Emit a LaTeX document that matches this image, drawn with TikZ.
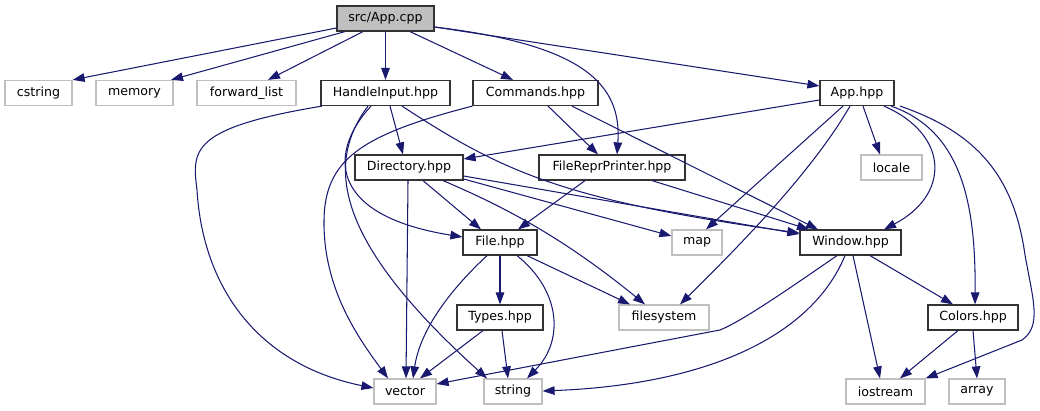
\documentclass[tikz,border=0pt]{standalone}
\usepackage{fontspec}
\setmainfont{DejaVu Sans}
\usetikzlibrary{arrows.meta}
\definecolor{edgec}{HTML}{191970}
\definecolor{extc}{HTML}{BFBFBF}
\definecolor{boxc}{HTML}{333333}
\tikzset{
  base/.style={minimum height=25pt, inner sep=0pt, font=\fontsize{12.6}{14}\selectfont, line width=1.2pt},
  doc/.style={base, draw=boxc, fill=white},
  ext/.style={base, draw=extc, fill=white},
  root/.style={base, draw=boxc, fill=extc},
  e/.style={draw=edgec, line width=1.05pt, -{Triangle[length=12pt,width=8.6pt]}},
}
\begin{document}
\begin{tikzpicture}[x=1pt,y=-1pt]
\useasboundingbox (0,0) rectangle (1040,411);
% nodes
\node[root, minimum width=97pt]  (app)      at (385.5,18.5) {src/App.cpp};
\node[ext,  minimum width=67pt]  (cstring)  at (38.5,93)    {cstring};
\node[ext,  minimum width=77pt]  (memory)   at (134.5,93)   {memory};
\node[ext,  minimum width=99pt]  (fwd)      at (246.5,93)   {forward\_list};
\node[doc,  minimum width=129pt] (hi)       at (385.5,93)   {HandleInput.hpp};
\node[doc,  minimum width=125pt] (cmd)      at (535.5,93)   {Commands.hpp};
\node[doc,  minimum width=74pt]  (apphpp)   at (857,93)     {App.hpp};
\node[doc,  minimum width=108pt] (dir)      at (409,167.5)  {Directory.hpp};
\node[doc,  minimum width=146pt] (frp)      at (612,167.5)  {FileReprPrinter.hpp};
\node[ext,  minimum width=61pt]  (locale)   at (891.5,167.5){locale};
\node[ext,  minimum width=50pt]  (map)      at (697,242.5)  {map};
\node[doc,  minimum width=74pt]  (file)     at (500,242.5)  {File.hpp};
\node[doc,  minimum width=101pt] (window)   at (850.5,242.5){Window.hpp};
\node[ext,  minimum width=90pt]  (fs)       at (664,317.5)  {filesystem};
\node[doc,  minimum width=86pt]  (types)    at (500,317.5)  {Types.hpp};
\node[doc,  minimum width=90pt]  (colors)   at (973,317.5)  {Colors.hpp};
\node[ext,  minimum width=62pt]  (vector)   at (405,391.5)  {vector};
\node[ext,  minimum width=58pt]  (string)   at (513,391.5)  {string};
\node[ext,  minimum width=79pt]  (iostream) at (885.5,391.5){iostream};
\node[ext,  minimum width=56pt]  (array)    at (977,391.5)  {array};
% src/App.cpp
\draw[e] (app.west |- 0,28) -- (cstring.north east);
\draw[e] (app.south -| 345,0) -- (memory.north -| 171,0);
\draw[e] (app.south -| 363,0) -- (fwd.north -| 268,0);
\draw[e] (app) -- (hi);
\draw[e] (app.south -| 410,0) -- (cmd.north -| 513,0);
\draw[e] (app.east |- 0,27) .. controls (585,45) and (622,85) .. (frp.north -| 617,0);
\draw[e] (app.east |- 0,27) -- (apphpp.west |- 0,86);
% HandleInput.hpp
\draw[e] (hi.south -| 322,0) .. controls (190,128) and (192,150) .. (197,190) .. controls (203,290) and (260,365) .. (vector.west |- 0,388);
\draw[e] (hi.south -| 390,0) -- (dir.north -| 403,0);
\draw[e] (hi.south -| 371,0) .. controls (330,150) and (325,215) .. (file.west |- 0,237);
\draw[e] (hi.south -| 368,0) .. controls (320,170) and (345,250) .. (string.north -| 487,0);
\draw[e] (hi.south -| 402,0) .. controls (500,170) and (560,200) .. (window.west |- 0,233);
% Commands.hpp
\draw[e] (cmd.south west) .. controls (360,135) and (325,160) .. (324,220) .. controls (323,290) and (360,340) .. (vector.north -| 388,0);
\draw[e] (cmd.south -| 548,0) -- (frp.north -| 598,0);
\draw[e] (cmd.south -| 572,0) -- (window.north -| 818,0);
% App.hpp
\draw[e] (apphpp.west |- 0,100) -- (dir.east |- 0,159);
\draw[e] (apphpp.south -| 843,0) -- (map.north -| 706,0);
\draw[e] (apphpp.south -| 850,0) .. controls (810,175) and (735,250) .. (fs.north -| 680,0);
\draw[e] (apphpp.south -| 863,0) -- (locale.north -| 880,0);
\draw[e] (apphpp.south -| 884,0) .. controls (950,135) and (950,195) .. (window.north -| 884,0);
\draw[e] (apphpp.south -| 891,0) .. controls (960,130) and (976,200) .. (colors.north -| 975,0);
\draw[e] (apphpp.south -| 900,0) .. controls (985,135) and (1015,185) .. (1025,255) .. controls (1033,300) and (1042,326) .. (1022,340) -- (iostream.north east);
% Directory.hpp
\draw[e] (dir.south -| 408,0) -- (vector.north -| 406,0);
\draw[e] (dir.south -| 423,0) -- (file.north -| 481,0);
\draw[e] (dir.south -| 443,0) .. controls (500,205) and (560,235) .. (fs.north -| 645,0);
\draw[e] (dir.east |- 0,179) -- (map.west |- 0,236);
\draw[e] (dir.east |- 0,176) -- (window.west |- 0,234);
% FileReprPrinter.hpp
\draw[e] (frp.south -| 585,0) -- (file.north -| 518,0);
\draw[e] (frp.south -| 652,0) -- (window.north -| 809,0);
% File.hpp
\draw[e] (file.south -| 487,0) .. controls (450,290) and (420,330) .. (vector.north -| 413,0);
\draw[e] (file) -- (types);
\draw[e] (file.south -| 517,0) .. controls (560,290) and (565,340) .. (string.north -| 527,0);
\draw[e] (file.south -| 527,0) -- (fs.north -| 630,0);
% Types.hpp
\draw[e] (types.south -| 483,0) -- (vector.north -| 420,0);
\draw[e] (types.south -| 502,0) -- (string.north -| 508,0);
% Window.hpp
\draw[e] (window.south -| 837,0) .. controls (780,295) and (740,322) .. (720,330) -- (vector.east |- 0,384);
\draw[e] (window.south -| 845,0) .. controls (810,340) and (700,385) .. (string.east |- 0,391);
\draw[e] (window.south -| 853,0) -- (iostream.north -| 880,0);
\draw[e] (window.south -| 870,0) -- (colors.north -| 953,0);
% Colors.hpp
\draw[e] (colors.south -| 958,0) -- (iostream.north -| 900,0);
\draw[e] (colors.south -| 973,0) -- (array.north -| 977,0);
\end{tikzpicture}
\end{document}
